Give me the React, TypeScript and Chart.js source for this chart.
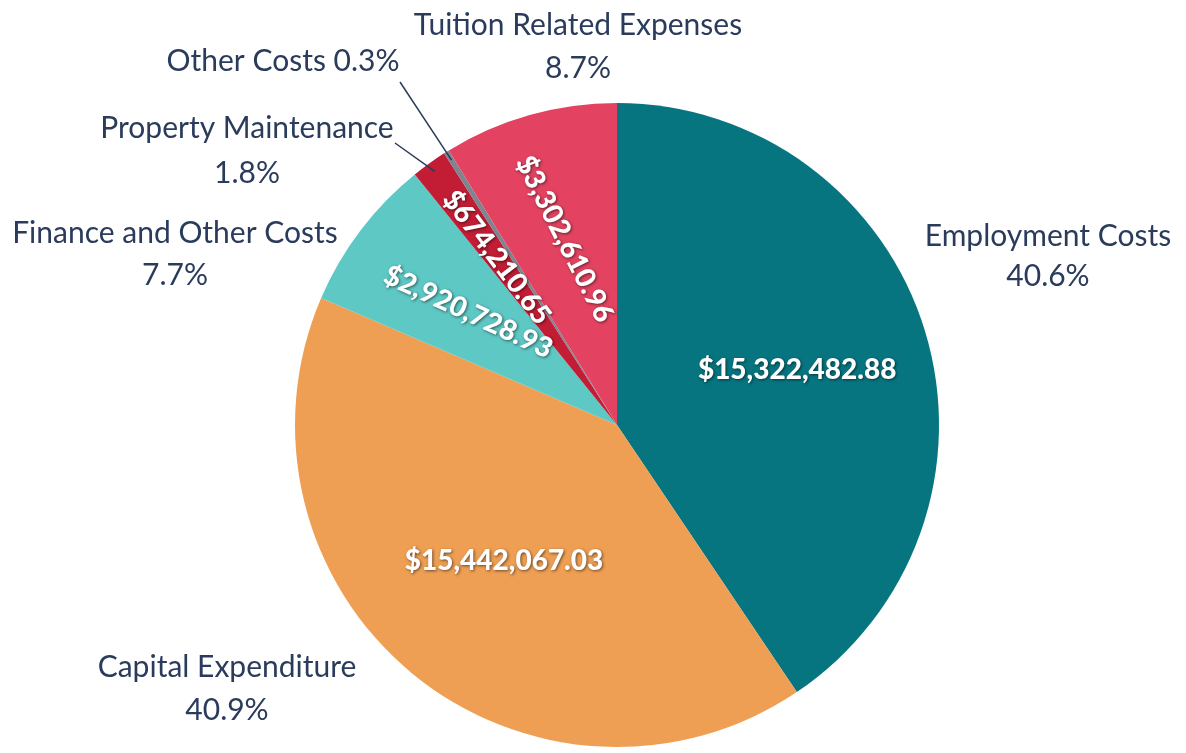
import React, { useEffect, useRef } from "react";
import { Chart, registerables } from "chart.js";

Chart.register(...registerables);

const categories = [
  "Employment Costs",
  "Capital Expenditure",
  "Finance and Other Costs",
  "Property Maintenance",
  "Other Costs",
  "Tuition Related Expenses",
];
const amounts = [15322482.88, 15442067.03, 2920728.93, 674210.65, 105000, 3302610.96];
const percentLabels = ["40.6%", "40.9%", "7.7%", "1.8%", "0.3%", "8.7%"];
const valueLabels = [
  "$15,322,482.88",
  "$15,442,067.03",
  "$2,920,728.93",
  "$674,210.65",
  "",
  "$3,302,610.96",
];

// styling / layout (not data)
const colors = ["#077580", "#EE9F53", "#5EC8C5", "#C21D34", "#7E8591", "#E34361"];
const TEXT_COLOR = "#2A3B5C";
const OUTER_FONT = "400 30px Lato, 'Open Sans', sans-serif";
const INNER_FONT = "900 28px Lato, 'Open Sans', sans-serif";
// inner value label: radius fraction and rotation (deg)
const innerFrac = [0.585, 0.55, 0.58, 0.64, 0, 0.6];
const innerRot = [0, 0, 25, 53, 0, 63];
// outer labels: center x, baselines, optional leader-line start
const outerLayout: Array<{ x: number; y1: number; y2: number; single?: boolean; leader?: [number, number] }> = [
  { x: 1048, y1: 246, y2: 286 },
  { x: 227, y1: 677, y2: 720 },
  { x: 175, y1: 243, y2: 285 },
  { x: 247, y1: 138, y2: 183, leader: [395, 143] },
  { x: 283, y1: 71, y2: 0, single: true, leader: [400, 82] },
  { x: 578, y1: 35, y2: 78 },
];

const labelPlugin = {
  id: "customLabels",
  afterDatasetsDraw(chart: any) {
    const ctx = chart.ctx as CanvasRenderingContext2D;
    const meta = chart.getDatasetMeta(0);
    meta.data.forEach((arc: any, i: number) => {
      const { x, y, startAngle, endAngle, outerRadius } = arc.getProps(
        ["x", "y", "startAngle", "endAngle", "outerRadius"],
        true
      );
      const mid = (startAngle + endAngle) / 2;
      const lay = outerLayout[i];
      if (lay.leader) {
        const ex = x + Math.cos(mid) * outerRadius * 0.97;
        const ey = y + Math.sin(mid) * outerRadius * 0.97;
        ctx.save();
        ctx.strokeStyle = TEXT_COLOR;
        ctx.lineWidth = 1.5;
        ctx.beginPath();
        ctx.moveTo(lay.leader[0], lay.leader[1]);
        ctx.lineTo(ex, ey);
        ctx.stroke();
        ctx.restore();
      }
      ctx.save();
      ctx.fillStyle = TEXT_COLOR;
      ctx.font = OUTER_FONT;
      ctx.textAlign = "center";
      ctx.textBaseline = "alphabetic";
      if (lay.single) {
        ctx.fillText(categories[i] + " " + percentLabels[i], lay.x, lay.y1);
      } else {
        ctx.fillText(categories[i], lay.x, lay.y1);
        ctx.fillText(percentLabels[i], lay.x, lay.y2);
      }
      ctx.restore();
      if (valueLabels[i]) {
        const r = outerRadius * innerFrac[i];
        const lx = x + Math.cos(mid) * r;
        const ly = y + Math.sin(mid) * r;
        ctx.save();
        ctx.translate(lx, ly);
        ctx.rotate((innerRot[i] * Math.PI) / 180);
        ctx.font = INNER_FONT;
        ctx.textAlign = "center";
        ctx.textBaseline = "middle";
        ctx.shadowColor = "rgba(0,0,0,0.55)";
        ctx.shadowBlur = 3;
        ctx.shadowOffsetX = 1;
        ctx.shadowOffsetY = 1;
        ctx.fillStyle = "#FFFFFF";
        ctx.fillText(valueLabels[i], 0, 0);
        ctx.restore();
      }
    });
  },
};

export default function App() {
  const ref = useRef<HTMLCanvasElement>(null);
  useEffect(() => {
    if (!ref.current) return;
    const chart = new Chart(ref.current, {
      type: "pie",
      data: {
        labels: categories,
        datasets: [
          {
            data: amounts,
            backgroundColor: colors,
            borderWidth: 0,
          },
        ],
      },
      options: {
        responsive: false,
        animation: false,
        layout: { padding: { left: 295, right: 247, top: 103, bottom: 6 } },
        plugins: {
          legend: { display: false },
          tooltip: { enabled: false },
        },
      },
      plugins: [labelPlugin],
    });
    return () => chart.destroy();
  }, []);
  return (
    <div style={{ position: "fixed", left: 0, top: 0, width: 1186, height: 753, background: "#fff" }}>
      <canvas ref={ref} width={1186} height={753} />
    </div>
  );
}
